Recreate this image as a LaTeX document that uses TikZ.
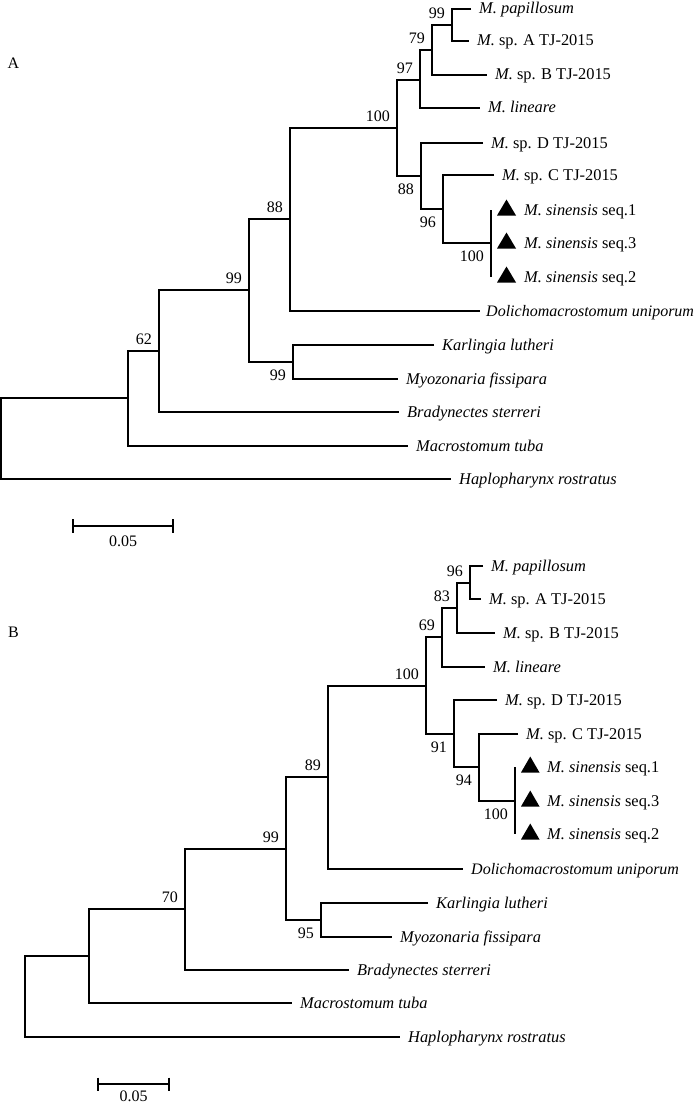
\documentclass[tikz,border=0pt]{standalone}
\usepackage{fontspec}
\setmainfont{Liberation Serif}
\usetikzlibrary{calc}
\begin{document}
\begin{tikzpicture}[x=1pt,y=-1pt,
  branch/.style={line width=2pt, line join=miter},
  taxon/.style={anchor=base west, inner sep=0pt, xshift=8pt, yshift=-5pt, font=\fontsize{16.4}{19}\selectfont},
  longtaxon/.style={taxon, font=\fontsize{16}{19}\selectfont},
  sintaxon/.style={anchor=base west, inner sep=0pt, xshift=33pt, yshift=-5.5pt, font=\fontsize{16.4}{19}\selectfont},
  bsa/.style={anchor=base east, inner sep=0pt, xshift=-7pt, yshift=6.5pt, font=\fontsize{16}{19}\selectfont},
  bsb/.style={anchor=north east, inner sep=0pt, xshift=-7pt, yshift=-8pt, font=\fontsize{16}{19}\selectfont},
  panel/.style={inner sep=0pt, font=\fontsize{16}{19}\selectfont},
  sbar/.style={line width=2pt},
  stick/.style={line width=2.8pt},
  sblabel/.style={anchor=north, inner sep=0pt, yshift=-9pt, font=\fontsize{16}{19}\selectfont}
]
\useasboundingbox (0,0) rectangle (700,1105);

% ================= Tree A =================
\node[panel] (labA) at (13.5,63.5) {A};
% leaf tips
\coordinate (Apap) at (471,9);
\coordinate (AspA) at (469,41);
\coordinate (AspB) at (487,75);
\coordinate (Alin) at (480,108);
\coordinate (AspD) at (483,143);
\coordinate (AspC) at (494,175);
\coordinate (As1) at (491,210);
\coordinate (As3) at (491,243);
\coordinate (As2) at (491,277);
\coordinate (Adol) at (480,311);
\coordinate (Akar) at (434,345);
\coordinate (Amyo) at (398,379);
\coordinate (Abra) at (399,412);
\coordinate (Amac) at (408,446);
\coordinate (Ahap) at (451,479);
% internal nodes
\coordinate (An99a) at (452,25);
\coordinate (An79) at (432,50);
\coordinate (An97) at (420,80);
\coordinate (An100b) at (491,243);
\coordinate (An96) at (443,209);
\coordinate (An88b) at (421,176);
\coordinate (An100) at (397,128);
\coordinate (An88) at (290,219);
\coordinate (An99b) at (293,362);
\coordinate (An99) at (249,290);
\coordinate (An62) at (159,351);
\coordinate (An128) at (128,398);
\coordinate (Aroot) at (1,439);

\draw[branch] (Apap) -| (An99a) |- (AspA);
\draw[branch] (An99a) -| (An79) |- (AspB);
\draw[branch] (An79) -| (An97) |- (Alin);
\draw[branch] (An97) -| (An100) |- (An88b);
\draw[branch] (AspD) -| (An88b) |- (An96);
\draw[branch] (AspC) -| (An96) |- (An100b);
\draw[branch] (As1) -- (As2);
\draw[branch] (An100) -| (An88) |- (Adol);
\draw[branch] (An88) -| (An99) |- (An99b);
\draw[branch] (Akar) -| (An99b) |- (Amyo);
\draw[branch] (An99) -| (An62) |- (Abra);
\draw[branch] (An62) -| (An128) |- (Amac);
\draw[branch] (An128) -| (Aroot) |- (Ahap);

\foreach \c in {As1,As3,As2}{
  \fill ($(\c)+(6,5.5)$) -- ++(19,0) -- ++(-9.5,-16) -- cycle;
}

\node[taxon] (tApap) at (Apap) {\textit{M. papillosum}};
\node[taxon] (tAspA) at (AspA) {\textit{M.} sp. A TJ-2015};
\node[taxon] (tAspB) at (AspB) {\textit{M.} sp. B TJ-2015};
\node[taxon] (tAlin) at (Alin) {\textit{M. lineare}};
\node[taxon] (tAspD) at (AspD) {\textit{M.} sp. D TJ-2015};
\node[taxon] (tAspC) at (AspC) {\textit{M.} sp. C TJ-2015};
\node[sintaxon] (tAs1) at (As1) {\textit{M. sinensis} seq.1};
\node[sintaxon] (tAs3) at (As3) {\textit{M. sinensis} seq.3};
\node[sintaxon] (tAs2) at (As2) {\textit{M. sinensis} seq.2};
\node[longtaxon, xshift=-2pt] (tAdol) at (Adol) {\textit{Dolichomacrostomum uniporum}};
\node[taxon] (tAkar) at (Akar) {\textit{Karlingia lutheri}};
\node[taxon] (tAmyo) at (Amyo) {\textit{Myozonaria fissipara}};
\node[taxon] (tAbra) at (Abra) {\textit{Bradynectes sterreri}};
\node[taxon] (tAmac) at (Amac) {\textit{Macrostomum tuba}};
\node[taxon] (tAhap) at (Ahap) {\textit{Haplopharynx rostratus}};

\node[bsa] (bA1) at (An99a) {99};
\node[bsa] (bA2) at (An79) {79};
\node[bsa] (bA3) at (An97) {97};
\node[bsa] (bA4) at (An100) {100};
\node[bsa] (bA5) at (An88) {88};
\node[bsa] (bA6) at (An99) {99};
\node[bsa] (bA7) at (An62) {62};
\node[bsb] (bA8) at (An88b) {88};
\node[bsb] (bA9) at (An96) {96};
\node[bsb] (bA10) at (An100b) {100};
\node[bsb] (bA11) at (An99b) {99};

% scale bar A
\coordinate (Asb1) at (73,526);
\coordinate (Asb2) at (173,526);
\draw[sbar] (Asb1) -- (Asb2);
\draw[stick] ($(Asb1)+(0,-7)$) -- ($(Asb1)+(0,7)$);
\draw[stick] ($(Asb2)+(0,-7)$) -- ($(Asb2)+(0,7)$);
\node[sblabel, yshift=-1pt] (sbA) at ($(Asb1)!0.5!(Asb2)$) {0.05};

% ================= Tree B =================
\node[panel] (labB) at (13.5,632) {B};
\coordinate (Bpap) at (483,566);
\coordinate (BspA) at (481,599);
\coordinate (BspB) at (495,633);
\coordinate (Blin) at (485,667);
\coordinate (BspD) at (497,700);
\coordinate (BspC) at (518,734);
\coordinate (Bs1) at (515,767);
\coordinate (Bs3) at (515,801);
\coordinate (Bs2) at (515,834);
\coordinate (Bdol) at (463,869);
\coordinate (Bkar) at (428,903);
\coordinate (Bmyo) at (392,937);
\coordinate (Bbra) at (349,970);
\coordinate (Bmac) at (292,1003);
\coordinate (Bhap) at (400,1037);

\coordinate (Bn96) at (470,583);
\coordinate (Bn83) at (457,608);
\coordinate (Bn69) at (442,637);
\coordinate (Bn100b) at (515,801);
\coordinate (Bn94) at (479,767);
\coordinate (Bn91) at (454,734);
\coordinate (Bn100) at (426,686);
\coordinate (Bn89) at (328,777);
\coordinate (Bn95) at (321,920);
\coordinate (Bn99) at (286,849);
\coordinate (Bn70) at (185,909);
\coordinate (Bn89x) at (89,956);
\coordinate (Broot) at (25,997);

\draw[branch] (Bpap) -| (Bn96) |- (BspA);
\draw[branch] (Bn96) -| (Bn83) |- (BspB);
\draw[branch] (Bn83) -| (Bn69) |- (Blin);
\draw[branch] (Bn69) -| (Bn100) |- (Bn91);
\draw[branch] (BspD) -| (Bn91) |- (Bn94);
\draw[branch] (BspC) -| (Bn94) |- (Bn100b);
\draw[branch] (Bs1) -- (Bs2);
\draw[branch] (Bn100) -| (Bn89) |- (Bdol);
\draw[branch] (Bn89) -| (Bn99) |- (Bn95);
\draw[branch] (Bkar) -| (Bn95) |- (Bmyo);
\draw[branch] (Bn99) -| (Bn70) |- (Bbra);
\draw[branch] (Bn70) -| (Bn89x) |- (Bmac);
\draw[branch] (Bn89x) -| (Broot) |- (Bhap);

\foreach \c in {Bs1,Bs3,Bs2}{
  \fill ($(\c)+(6,5.5)$) -- ++(18.5,0) -- ++(-9.25,-16) -- cycle;
}

\node[taxon] (tBpap) at (Bpap) {\textit{M. papillosum}};
\node[taxon] (tBspA) at (BspA) {\textit{M.} sp. A TJ-2015};
\node[taxon] (tBspB) at (BspB) {\textit{M.} sp. B TJ-2015};
\node[taxon] (tBlin) at (Blin) {\textit{M. lineare}};
\node[taxon] (tBspD) at (BspD) {\textit{M.} sp. D TJ-2015};
\node[taxon] (tBspC) at (BspC) {\textit{M.} sp. C TJ-2015};
\node[sintaxon, xshift=-1pt] (tBs1) at (Bs1) {\textit{M. sinensis} seq.1};
\node[sintaxon, xshift=-1pt] (tBs3) at (Bs3) {\textit{M. sinensis} seq.3};
\node[sintaxon, xshift=-1pt] (tBs2) at (Bs2) {\textit{M. sinensis} seq.2};
\node[longtaxon] (tBdol) at (Bdol) {\textit{Dolichomacrostomum uniporum}};
\node[taxon] (tBkar) at (Bkar) {\textit{Karlingia lutheri}};
\node[taxon] (tBmyo) at (Bmyo) {\textit{Myozonaria fissipara}};
\node[taxon] (tBbra) at (Bbra) {\textit{Bradynectes sterreri}};
\node[taxon] (tBmac) at (Bmac) {\textit{Macrostomum tuba}};
\node[taxon] (tBhap) at (Bhap) {\textit{Haplopharynx rostratus}};

\node[bsa] (bB1) at (Bn96) {96};
\node[bsa] (bB2) at (Bn83) {83};
\node[bsa] (bB3) at (Bn69) {69};
\node[bsa] (bB4) at (Bn100) {100};
\node[bsa] (bB5) at (Bn89) {89};
\node[bsa] (bB6) at (Bn99) {99};
\node[bsa] (bB7) at (Bn70) {70};
\node[bsb] (bB8) at (Bn91) {91};
\node[bsb] (bB9) at (Bn94) {94};
\node[bsb] (bB10) at (Bn100b) {100};
\node[bsb] (bB11) at (Bn95) {95};

% scale bar B
\coordinate (Bsb1) at (98,1084);
\coordinate (Bsb2) at (169,1084);
\draw[sbar] (Bsb1) -- (Bsb2);
\draw[stick] ($(Bsb1)+(0,-6.5)$) -- ($(Bsb1)+(0,6.5)$);
\draw[stick] ($(Bsb2)+(0,-6.5)$) -- ($(Bsb2)+(0,6.5)$);
\node[sblabel, yshift=2pt] (sbB) at ($(Bsb1)!0.5!(Bsb2)$) {0.05};
\end{tikzpicture}
\end{document}
